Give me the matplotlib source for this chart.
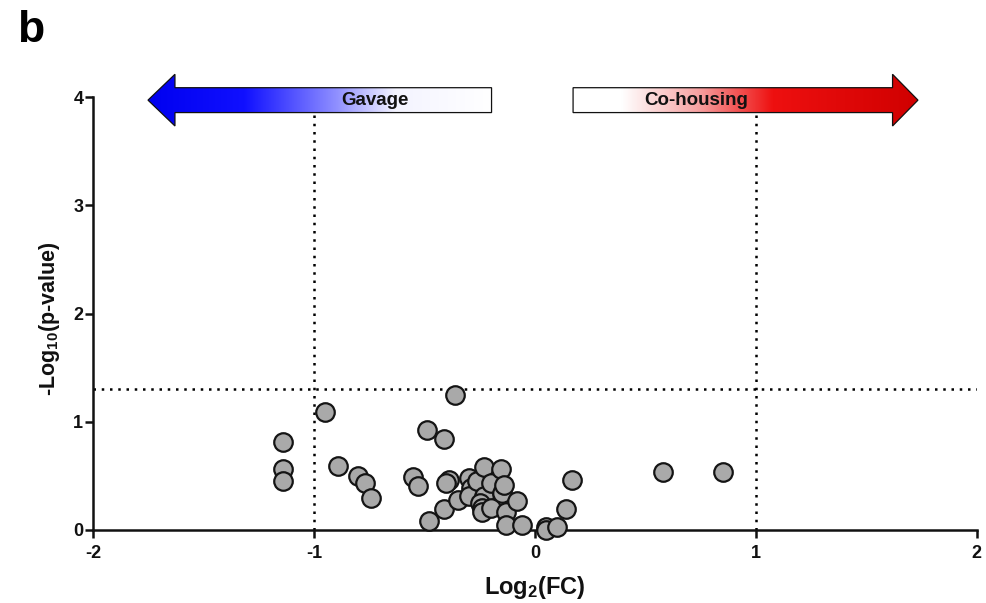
import numpy as np
import matplotlib
matplotlib.use("Agg")
import matplotlib.pyplot as plt
from matplotlib.patches import Polygon
from matplotlib.colors import LinearSegmentedColormap

# Volcano plot data: log2 fold change vs -log10 p-value
log2_fc = [-1.14, -1.14, -1.14, -0.95, -0.89, -0.80, -0.77, -0.74,
           -0.55, -0.53, -0.49, -0.48, -0.41, -0.41, -0.39, -0.40,
           -0.36, -0.35, -0.30, -0.29, -0.30, -0.26, -0.23, -0.23,
           -0.25, -0.24, -0.24, -0.20, -0.20, -0.155, -0.15, -0.14,
           -0.13, -0.13, -0.08, -0.06, 0.05, 0.05, 0.10, 0.14,
           0.17, 0.58, 0.85]
neg_log10_p = [0.81, 0.56, 0.45, 1.09, 0.59, 0.50, 0.43, 0.30,
               0.49, 0.41, 0.92, 0.08, 0.84, 0.19, 0.46, 0.43,
               1.25, 0.28, 0.48, 0.39, 0.31, 0.45, 0.58, 0.31,
               0.25, 0.20, 0.17, 0.43, 0.20, 0.56, 0.34, 0.42,
               0.17, 0.05, 0.27, 0.05, 0.025, 0.0, 0.03, 0.19,
               0.46, 0.54, 0.54]

x_ticks = [-2, -1, 0, 1, 2]
y_ticks = [0, 1, 2, 3, 4]
p_cutoff = 0.05
fc_cutoff = 1.0
arrow_labels = ["Gavage", "Co-housing"]

plt.rcParams['font.family'] = ['Liberation Sans', 'DejaVu Sans']
plt.rcParams['font.weight'] = 'bold'
plt.rcParams['mathtext.fontset'] = 'custom'
plt.rcParams['mathtext.rm'] = 'Liberation Sans:bold'
plt.rcParams['mathtext.it'] = 'Liberation Sans:bold'
plt.rcParams['mathtext.bf'] = 'Liberation Sans:bold'

fig = plt.figure(figsize=(9.86, 6.03), dpi=100)
ax = fig.add_axes([0.0943, 0.1211, 0.8963, 0.7175])

dot_style = dict(color='black', linewidth=1.8, linestyle=(0, (1, 2.3)), zorder=1)

# significance thresholds
y_sig = -np.log10(p_cutoff)
ax.plot([x_ticks[0], x_ticks[-1]], [y_sig, y_sig], **dot_style)
for xv in (-fc_cutoff, fc_cutoff):
    ax.plot([xv, xv], [y_ticks[0], y_ticks[-1]], **dot_style)

# points
ax.scatter(log2_fc, neg_log10_p, s=178, facecolor='#a9a9a9',
           edgecolor='#141414', linewidth=1.6, zorder=5, clip_on=False)

# direction arrows with colour gradients
def gradient_arrow(x_tail, x_base, x_tip, colors, label, label_x):
    yc = 3.974
    body_h = 0.115
    head_h = 0.239
    pts = [(x_tail, yc + body_h), (x_base, yc + body_h), (x_base, yc + head_h),
           (x_tip, yc), (x_base, yc - head_h), (x_base, yc - body_h),
           (x_tail, yc - body_h)]
    poly = Polygon(pts, closed=True, facecolor='none', edgecolor='#111111',
                   linewidth=0.9, zorder=8, clip_on=False)
    ax.add_patch(poly)
    cmap = LinearSegmentedColormap.from_list('g', colors)
    grad = np.linspace(0, 1, 512)[None, :]
    x0, x1 = min(x_tail, x_tip), max(x_tail, x_tip)
    if x_tip < x_tail:
        grad = grad[:, ::-1]
    im = ax.imshow(grad, cmap=cmap, extent=(x0, x1, yc - head_h, yc + head_h),
                   aspect='auto', interpolation='bilinear', zorder=7)
    im.set_clip_box(fig.bbox)
    im.set_clip_path(poly)
    ax.text(label_x, yc, label, ha='center', va='center', fontsize=13.5,
            fontweight='bold', color='#111111', zorder=9, clip_on=False)

gradient_arrow(-0.196, -1.629, -1.751,
               [(0.0, '#ffffff'), (0.28, '#f4f4ff'), (0.45, '#9090ff'),
                (0.72, '#1010ff'), (1.0, '#0000f0')],
               arrow_labels[0], -0.724)
gradient_arrow(0.173, 1.619, 1.734,
               [(0.0, '#ffffff'), (0.14, '#ffffff'), (0.36, '#f7a3a3'),
                (0.58, '#ee1010'), (1.0, '#d00000')],
               arrow_labels[1], 0.731)

ax.set_xlim(x_ticks[0], x_ticks[-1])
ax.set_ylim(y_ticks[0], y_ticks[-1])
ax.set_xticks(x_ticks)
ax.set_yticks(y_ticks)
ax.set_xticklabels([str(v) for v in x_ticks], fontsize=13, fontweight='bold')
ax.set_yticklabels([str(v) for v in y_ticks], fontsize=13, fontweight='bold')

for side in ('top', 'right'):
    ax.spines[side].set_visible(False)
for side in ('left', 'bottom'):
    ax.spines[side].set_linewidth(1.8)
    ax.spines[side].set_color('#111111')
    ax.spines[side].set_zorder(4)
ax.tick_params(axis='both', direction='out', length=5.5, width=1.8,
               color='#111111', labelcolor='#111111')
ax.tick_params(axis='x', pad=5)
ax.tick_params(axis='y', pad=1.5)

ax.set_xlabel(r'Log$_2$(FC)', fontsize=17, fontweight='bold', color='#111111')
ax.set_ylabel(r'-Log$_{10}$(p-value)', fontsize=15.5, fontweight='bold', color='#111111')
ax.xaxis.set_label_coords(0.5, -0.102)
ax.yaxis.set_label_coords(-0.035, 0.488)

fig.text(0.017, 0.93, 'b', fontsize=32, fontweight='bold', color='#000000',
         ha='left', va='baseline')

fig.savefig('out.png', dpi=100)
